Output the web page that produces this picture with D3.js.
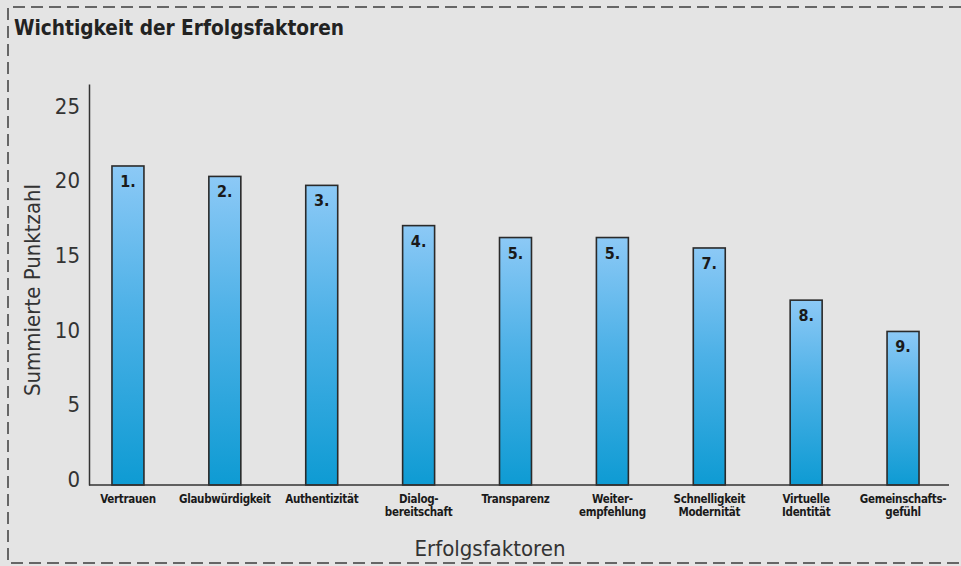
<!DOCTYPE html>
<html>
<head>
<meta charset="utf-8">
<script src="https://cdn.jsdelivr.net/npm/d3@7"></script>
<style>
  body { margin: 0; background: #fff; }
  svg { display: block; }
</style>
</head>
<body>
<svg id="chart"></svg>
<script>
const categories = [
  ["Vertrauen"],
  ["Glaubwürdigkeit"],
  ["Authentizität"],
  ["Dialog-", "bereitschaft"],
  ["Transparenz"],
  ["Weiter-", "empfehlung"],
  ["Schnelligkeit", "Modernität"],
  ["Virtuelle", "Identität"],
  ["Gemeinschafts-", "gefühl"]
];
const ranks = ["1.", "2.", "3.", "4.", "5.", "5.", "7.", "8.", "9."];
const values = [21.4, 20.7, 20.1, 17.4, 16.6, 16.6, 15.9, 12.4, 10.3];
const yTicks = [0, 5, 10, 15, 20, 25];

const width = 961, height = 566;
const FONT = "'Liberation Sans Narrow', 'DejaVu Sans Condensed', 'Roboto', sans-serif";

const svg = d3.select("#chart")
  .attr("width", width)
  .attr("height", height);

// background + dashed frame
svg.append("rect")
  .attr("width", width).attr("height", height)
  .attr("fill", "#e4e4e4");

svg.append("path")
  .attr("d", "M961,7 H8 V563 H961")
  .attr("fill", "none")
  .attr("stroke", "#666")
  .attr("stroke-width", 2)
  .attr("stroke-dasharray", "12,6");

const defs = svg.append("defs");
const grad = defs.append("linearGradient")
  .attr("id", "barGrad")
  .attr("x1", 0).attr("y1", 0).attr("x2", 0).attr("y2", 1);
grad.append("stop").attr("offset", "0%").attr("stop-color", "#8cc9f6");
grad.append("stop").attr("offset", "45%").attr("stop-color", "#4db1e7");
grad.append("stop").attr("offset", "100%").attr("stop-color", "#0e9bd3");

const x = d3.scaleBand()
  .domain(d3.range(categories.length))
  .range([80, 951])
  .paddingInner(0.67)
  .paddingOuter(0.33);

const y = d3.scaleLinear()
  .domain([0, 26.9])
  .range([485, 84]);

// title
svg.append("text")
  .attr("x", 14).attr("y", 35)
  .attr("font-family", FONT)
  .attr("font-weight", "bold")
  .attr("font-size", 22)
  .attr("fill", "#222")
  .attr("textLength", 330)
  .attr("lengthAdjust", "spacingAndGlyphs")
  .text("Wichtigkeit der Erfolgsfaktoren");

// bars
const bar = svg.selectAll("g.bar")
  .data(values)
  .join("g")
  .attr("class", "bar");

bar.append("rect")
  .attr("x", (d, i) => x(i))
  .attr("y", d => y(d))
  .attr("width", x.bandwidth())
  .attr("height", d => y(0) - y(d))
  .attr("fill", "url(#barGrad)")
  .attr("stroke", "#2a2a2a")
  .attr("stroke-width", 1.6);

bar.append("text")
  .attr("x", (d, i) => x(i) + x.bandwidth() / 2)
  .attr("y", d => y(d) + 21)
  .attr("text-anchor", "middle")
  .attr("font-family", FONT)
  .attr("font-weight", "bold")
  .attr("font-size", 16)
  .attr("fill", "#1a1a1a")
  .text((d, i) => ranks[i]);

// y axis
const yAxis = d3.axisLeft(y)
  .tickValues(yTicks)
  .tickSize(0)
  .tickPadding(9);

const gy = svg.append("g")
  .attr("transform", "translate(89,0)")
  .call(yAxis);
gy.select(".domain").attr("stroke", "#333").attr("stroke-width", 1.5);
gy.selectAll("text")
  .attr("font-family", FONT)
  .attr("font-size", 22)
  .attr("fill", "#333")
  .attr("dy", "0.05em");

// x baseline
svg.append("line")
  .attr("x1", 89).attr("x2", 949)
  .attr("y1", y(0)).attr("y2", y(0))
  .attr("stroke", "#333")
  .attr("stroke-width", 1.5);

// category labels
const cat = svg.selectAll("text.cat")
  .data(categories)
  .join("text")
  .attr("class", "cat")
  .attr("text-anchor", "middle")
  .attr("font-family", FONT)
  .attr("font-weight", "bold")
  .attr("font-size", 11.5)
  .attr("letter-spacing", -0.3)
  .attr("fill", "#1a1a1a");

cat.selectAll("tspan")
  .data((d, i) => d.map(t => ({ t, i })))
  .join("tspan")
  .attr("x", d => x(d.i) + x.bandwidth() / 2)
  .attr("y", (d, j) => 503 + j * 13)
  .text(d => d.t);

// axis titles
svg.append("text")
  .attr("transform", "translate(40,290) rotate(-90)")
  .attr("text-anchor", "middle")
  .attr("font-family", FONT)
  .attr("font-size", 22)
  .attr("fill", "#333")
  .text("Summierte Punktzahl");

svg.append("text")
  .attr("x", 490).attr("y", 556)
  .attr("text-anchor", "middle")
  .attr("font-family", FONT)
  .attr("font-size", 22)
  .attr("fill", "#333")
  .text("Erfolgsfaktoren");
</script>
</body>
</html>
